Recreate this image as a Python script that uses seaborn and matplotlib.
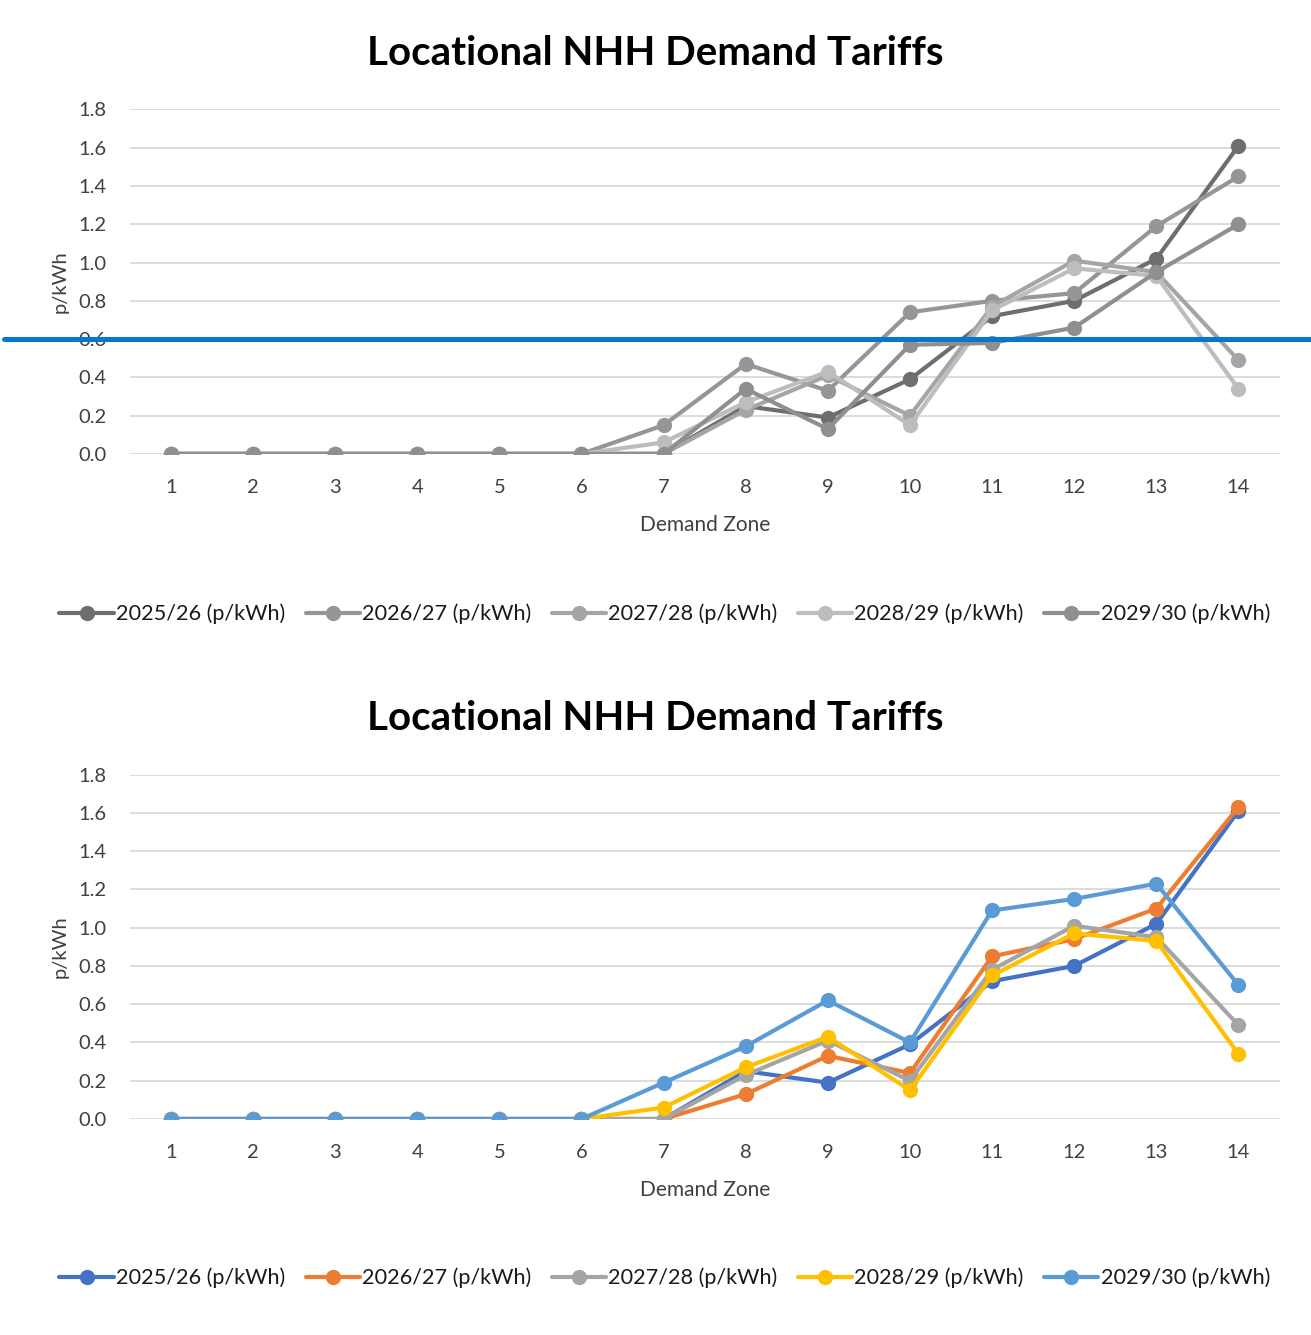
import seaborn as sns
import matplotlib.pyplot as plt
from matplotlib.lines import Line2D
import pandas as pd

zones = list(range(1, 15))
years = ['2025/26 (p/kWh)', '2026/27 (p/kWh)', '2027/28 (p/kWh)', '2028/29 (p/kWh)', '2029/30 (p/kWh)']

# top chart (greyscale version)
top_2025 = [0, 0, 0, 0, 0, 0, 0.0, 0.25, 0.19, 0.39, 0.72, 0.80, 1.02, 1.61]
top_2026 = [0, 0, 0, 0, 0, 0, 0.15, 0.47, 0.33, 0.74, 0.80, 0.84, 1.19, 1.45]
top_2027 = [0, 0, 0, 0, 0, 0, 0.0, 0.23, 0.41, 0.20, 0.77, 1.01, 0.95, 0.49]
top_2028 = [0, 0, 0, 0, 0, 0, 0.06, 0.27, 0.43, 0.15, 0.75, 0.97, 0.93, 0.34]
top_2029 = [0, 0, 0, 0, 0, 0, 0.0, 0.34, 0.13, 0.57, 0.58, 0.66, 0.95, 1.20]

# bottom chart (colour version)
bot_2025 = [0, 0, 0, 0, 0, 0, 0.0, 0.25, 0.19, 0.39, 0.72, 0.80, 1.02, 1.61]
bot_2026 = [0, 0, 0, 0, 0, 0, 0.0, 0.13, 0.33, 0.24, 0.85, 0.94, 1.10, 1.63]
bot_2027 = [0, 0, 0, 0, 0, 0, 0.0, 0.23, 0.41, 0.20, 0.78, 1.01, 0.95, 0.49]
bot_2028 = [0, 0, 0, 0, 0, 0, 0.06, 0.27, 0.43, 0.15, 0.75, 0.97, 0.93, 0.34]
bot_2029 = [0, 0, 0, 0, 0, 0, 0.19, 0.38, 0.62, 0.40, 1.09, 1.15, 1.23, 0.70]

marker_level = 0.6  # blue highlight line over the top chart

grey_pal = ['#6e6e6e', '#969696', '#a5a5a5', '#bdbdbd', '#8f8f8f']
colour_pal = ['#4472c4', '#ed7d31', '#a5a5a5', '#ffc000', '#5b9bd5']


def long_df(series):
    rows = []
    for year, vals in zip(years, series):
        for z, v in zip(zones, vals):
            rows.append({'zone': z, 'value': v, 'year': year})
    return pd.DataFrame(rows)


top_df = long_df([top_2025, top_2026, top_2027, top_2028, top_2029])
bot_df = long_df([bot_2025, bot_2026, bot_2027, bot_2028, bot_2029])

sns.set_style("white")
plt.rcParams['font.family'] = ['Lato', 'DejaVu Sans']

fig = plt.figure(figsize=(13.11, 13.35), dpi=100)
ax_top = fig.add_axes([0.099, 0.660, 0.877, 0.258])
ax_bot = fig.add_axes([0.099, 0.1618, 0.877, 0.258])


def draw(ax, df, pal, legend_y):
    sns.lineplot(data=df, x='zone', y='value', hue='year', hue_order=years,
                 palette=pal, marker='o', markersize=11, markeredgewidth=0,
                 linewidth=3, legend=False, ax=ax, zorder=3)
    ax.set_xlim(0.5, 14.5)
    ax.set_ylim(0, 1.8)
    ax.set_xticks(zones)
    ax.set_yticks([i * 0.2 for i in range(10)])
    ax.set_yticklabels([f'{i * 0.2:.1f}' for i in range(10)])
    ax.grid(axis='y', color='#d9d9d9', linewidth=1.3)
    ax.grid(axis='x', visible=False)
    for s in ax.spines.values():
        s.set_visible(False)
    ax.tick_params(axis='both', length=0, labelsize=14.5, colors='#404040')
    ax.tick_params(axis='x', pad=18)
    ax.tick_params(axis='y', pad=17)
    ax.set_xlabel('Demand Zone', fontsize=15, color='#404040', labelpad=14)
    ax.set_ylabel('p/kWh', fontsize=14.5, color='#404040', labelpad=7)
    ax.set_title('Locational NHH Demand Tariffs', fontsize=29, fontweight='bold',
                 color='black', x=0.457, pad=32)
    handles = [Line2D([], [], color=c, linewidth=3, marker='o', markersize=11, markeredgewidth=0)
               for c in pal]
    fig.legend(handles, years, loc='center', bbox_to_anchor=(0.507, legend_y), ncol=5,
               frameon=False, fontsize=15.6, handlelength=2.5, handletextpad=0.1,
               columnspacing=0.95, labelcolor='#1a1a1a')


draw(ax_top, top_df, grey_pal, 0.540)
draw(ax_bot, bot_df, colour_pal, 0.0427)

ax_top.axhline(marker_level, xmin=-0.109, xmax=1.03, color='#0078d4', linewidth=3.6,
               clip_on=False, zorder=5)

fig.savefig('out.png', dpi=100)
